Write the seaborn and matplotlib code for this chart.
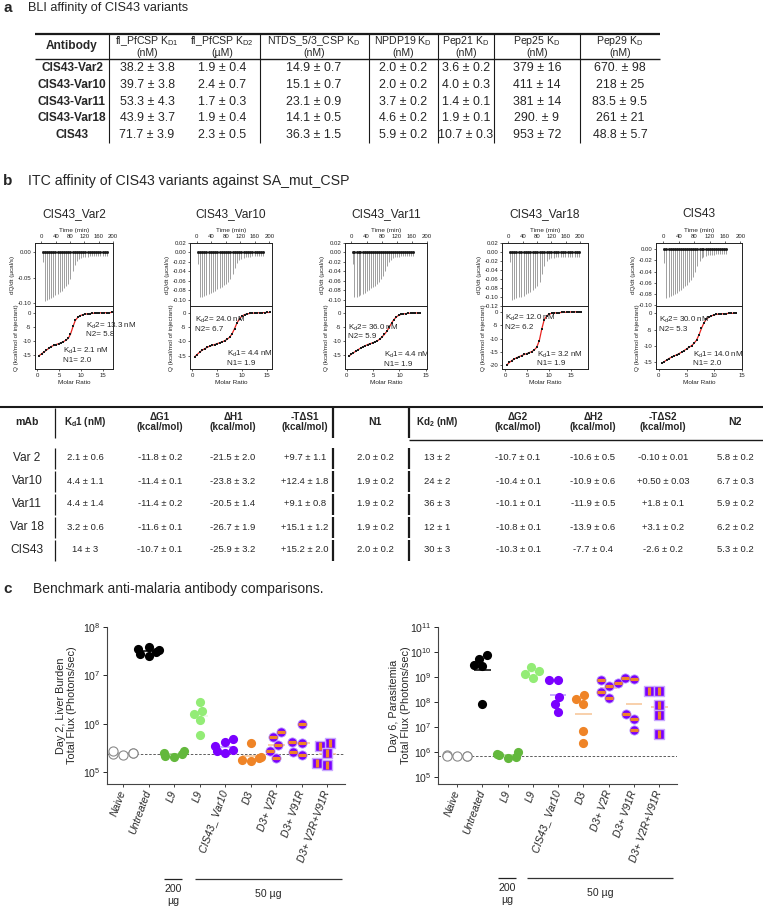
import numpy as np
import pandas as pd
import matplotlib
matplotlib.use("Agg")
import matplotlib.pyplot as plt
import matplotlib.ticker as mticker
from matplotlib import font_manager
import seaborn as sns

# ======================= DATA =======================
# ---- panel a : BLI table ----
bli_antibodies = ["CIS43-Var2", "CIS43-Var10", "CIS43-Var11", "CIS43-Var18", "CIS43"]
bli_headers = ["Antibody",
               "fl_PfCSP K$_\\mathregular{D1}$\n(nM)",
               "fl_PfCSP K$_\\mathregular{D2}$\n(µM)",
               "NTDS_5/3_CSP K$_\\mathregular{D}$\n(nM)",
               "NPDP19 K$_\\mathregular{D}$\n(nM)",
               "Pep21 K$_\\mathregular{D}$\n(nM)",
               "Pep25 K$_\\mathregular{D}$\n(nM)",
               "Pep29 K$_\\mathregular{D}$\n(nM)"]
bli_fl_kd1 = ["38.2 ± 3.8", "39.7 ± 3.8", "53.3 ± 4.3", "43.9 ± 3.7", "71.7 ± 3.9"]
bli_fl_kd2 = ["1.9 ± 0.4", "2.4 ± 0.7", "1.7 ± 0.3", "1.9 ± 0.4", "2.3 ± 0.5"]
bli_ntds = ["14.9 ± 0.7", "15.1 ± 0.7", "23.1 ± 0.9", "14.1 ± 0.5", "36.3 ± 1.5"]
bli_npdp19 = ["2.0 ± 0.2", "2.0 ± 0.2", "3.7 ± 0.2", "4.6 ± 0.2", "5.9 ± 0.2"]
bli_pep21 = ["3.6 ± 0.2", "4.0 ± 0.3", "1.4 ± 0.1", "1.9 ± 0.1", "10.7 ± 0.3"]
bli_pep25 = ["379 ± 16", "411 ± 14", "381 ± 14", "290. ± 9", "953 ± 72"]
bli_pep29 = ["670. ± 98", "218 ± 25", "83.5 ± 9.5", "261 ± 21", "48.8 ± 5.7"]

# ---- panel b : ITC ----
itc_names = ["CIS43_Var2", "CIS43_Var10", "CIS43_Var11", "CIS43_Var18", "CIS43"]
itc_times_a = [3, 9, 15, 21, 27, 33, 39, 45, 51, 57, 63, 69, 75, 81, 87, 93, 99, 105,
               111, 117, 123, 129, 135, 141, 147, 153, 159, 165, 171, 177, 183]
itc_times_b = [3, 8, 14, 19, 24, 30, 35, 40, 46, 51, 56, 62, 67, 72, 78, 83, 88, 94,
               99, 104, 110, 115, 120, 126, 131, 136, 142, 147, 152, 158, 163]
itc_times_c = [3, 9, 16, 22, 29, 35, 42, 48, 55, 61, 68, 74, 81, 87, 94, 100, 107, 113,
               120, 126, 133, 139, 146, 152, 159, 165, 172, 178, 185, 191, 198]
peak_var2 = [-0.020, -0.095, -0.093, -0.091, -0.089, -0.087, -0.084, -0.081, -0.078, -0.075,
             -0.071, -0.067, -0.062, -0.052, -0.038, -0.026, -0.018, -0.014, -0.012, -0.011,
             -0.010, -0.010, -0.009, -0.009, -0.009, -0.008, -0.008, -0.008, -0.008, -0.008, -0.008]
peak_var10 = [-0.025, -0.095, -0.093, -0.091, -0.089, -0.087, -0.085, -0.083, -0.081, -0.078,
              -0.075, -0.072, -0.069, -0.066, -0.062, -0.055, -0.045, -0.032, -0.022, -0.016,
              -0.013, -0.011, -0.010, -0.009, -0.009, -0.008, -0.008, -0.008, -0.007, -0.007, -0.007]
peak_var11 = [-0.025, -0.095, -0.093, -0.091, -0.089, -0.087, -0.085, -0.082, -0.079, -0.076,
              -0.073, -0.070, -0.066, -0.062, -0.057, -0.050, -0.040, -0.029, -0.020, -0.015,
              -0.012, -0.010, -0.009, -0.009, -0.008, -0.008, -0.008, -0.007, -0.007, -0.007, -0.007]
peak_var18 = [-0.022, -0.107, -0.105, -0.103, -0.101, -0.099, -0.097, -0.094, -0.091, -0.088,
              -0.085, -0.081, -0.076, -0.066, -0.048, -0.030, -0.020, -0.016, -0.014, -0.013,
              -0.012, -0.012, -0.011, -0.011, -0.011, -0.010, -0.010, -0.010, -0.010, -0.010, -0.010]
peak_cis43 = [-0.025, -0.087, -0.085, -0.083, -0.081, -0.079, -0.077, -0.075, -0.072, -0.069,
              -0.066, -0.063, -0.059, -0.055, -0.049, -0.040, -0.030, -0.021, -0.016, -0.013,
              -0.012, -0.011, -0.010, -0.010, -0.010, -0.009, -0.009, -0.009, -0.009, -0.009, -0.009]
ratio_var2 = [0.5, 1.0, 1.6, 2.1, 2.7, 3.2, 3.8, 4.3, 4.9, 5.4, 6.0, 6.5, 7.1, 7.6, 8.2, 8.7,
              9.3, 9.8, 10.4, 10.9, 11.5, 12.0, 12.6, 13.1, 13.7, 14.2, 14.8, 15.3, 15.9, 16.4, 17.0]
q_var2 = [-15.2, -14.6, -13.9, -13.3, -12.6, -12.0, -11.6, -11.3, -11.0, -10.7, -10.3, -9.8,
          -9.1, -7.6, -4.8, -2.7, -1.6, -1.0, -0.7, -0.5, -0.4, -0.3, -0.2, -0.15, -0.1, -0.05,
          0.0, 0.0, 0.05, 0.05, 0.1]
ratio_var10 = [0.5, 1.0, 1.5, 2.0, 2.5, 3.0, 3.5, 4.0, 4.5, 5.0, 5.5, 6.0, 6.5, 7.0, 7.5, 8.0,
               8.5, 9.0, 9.5, 10.0, 10.5, 11.0, 11.5, 12.0, 12.5, 13.0, 13.5, 14.0, 14.5, 15.0, 15.5]
q_var10 = [-15.4, -14.6, -13.8, -13.1, -12.6, -12.1, -11.7, -11.4, -11.1, -10.8, -10.5, -10.2,
           -9.8, -9.3, -8.6, -7.4, -5.6, -3.6, -2.1, -1.2, -0.7, -0.45, -0.3, -0.2, -0.15, -0.1,
           -0.05, 0.0, 0.0, 0.05, 0.05]
ratio_var11 = [0.4, 0.85, 1.3, 1.75, 2.2, 2.65, 3.1, 3.55, 4.0, 4.45, 4.9, 5.35, 5.8, 6.25, 6.7,
               7.15, 7.6, 8.05, 8.5, 8.95, 9.4, 9.85, 10.3, 10.75, 11.2, 11.65, 12.1, 12.55, 13.0,
               13.45, 13.9]
q_var11 = [-15.5, -14.8, -14.2, -13.7, -13.1, -12.6, -12.1, -11.7, -11.3, -11.0, -10.7, -10.4,
           -10.0, -9.4, -8.6, -7.7, -6.6, -5.2, -3.7, -2.4, -1.5, -0.9, -0.6, -0.4, -0.3, -0.2,
           -0.15, -0.1, -0.1, -0.05, -0.05]
ratio_var18 = [0.4, 1.0, 1.55, 2.1, 2.7, 3.25, 3.8, 4.4, 4.95, 5.5, 6.1, 6.65, 7.2, 7.8, 8.35,
               8.9, 9.5, 10.05, 10.6, 11.2, 11.75, 12.3, 12.9, 13.45, 14.0, 14.6, 15.15, 15.7,
               16.3, 16.85, 17.4]
q_var18 = [-20.0, -19.0, -18.3, -17.7, -17.2, -16.8, -16.4, -16.0, -15.7, -15.3, -14.9, -14.3,
           -13.3, -10.8, -6.5, -3.0, -1.4, -0.8, -0.5, -0.35, -0.25, -0.2, -0.15, -0.1, -0.05,
           0.0, 0.05, 0.05, 0.1, 0.1, 0.1]
ratio_cis43 = [0.5, 0.95, 1.4, 1.85, 2.3, 2.75, 3.2, 3.65, 4.1, 4.55, 5.0, 5.45, 5.9, 6.35, 6.8,
               7.25, 7.7, 8.15, 8.6, 9.05, 9.5, 9.95, 10.4, 10.85, 11.3, 11.75, 12.2, 12.65, 13.1,
               13.55, 14.0]
q_cis43 = [-15.3, -14.8, -14.3, -13.8, -13.4, -13.0, -12.7, -12.3, -11.9, -11.4, -10.9, -10.4,
           -9.9, -9.2, -8.2, -6.6, -4.6, -2.9, -1.8, -1.2, -0.8, -0.5, -0.35, -0.25, -0.2, -0.15,
           -0.1, -0.05, -0.05, 0.0, 0.0]
itc_kd2 = ["13.3", "24.0", "36.0", "12.0", "30.0"]
itc_n2 = ["5.8", "6.7", "5.9", "6.2", "5.3"]
itc_kd1 = ["2.1", "4.4", "4.4", "3.2", "14.0"]
itc_n1 = ["2.0", "1.9", "1.9", "1.9", "2.0"]

# ---- panel b : thermodynamics table ----
itc_headers = ["mAb", "K$_\\mathregular{d}$1 (nM)", "ΔG1\n(kcal/mol)", "ΔH1\n(kcal/mol)",
               "-TΔS1\n(kcal/mol)", "N1", "Kd$_\\mathregular{2}$ (nM)", "ΔG2\n(kcal/mol)",
               "ΔH2\n(kcal/mol)", "-TΔS2\n(kcal/mol)", "N2"]
itc_mabs = ["Var 2", "Var10", "Var11", "Var 18", "CIS43"]
itc_tab_kd1 = ["2.1 ± 0.6", "4.4 ± 1.1", "4.4 ± 1.4", "3.2 ± 0.6", "14 ± 3"]
itc_tab_dg1 = ["-11.8 ± 0.2", "-11.4 ± 0.1", "-11.4 ± 0.2", "-11.6 ± 0.1", "-10.7 ± 0.1"]
itc_tab_dh1 = ["-21.5 ± 2.0", "-23.8 ± 3.2", "-20.5 ± 1.4", "-26.7 ± 1.9", "-25.9 ± 3.2"]
itc_tab_tds1 = ["+9.7 ± 1.1", "+12.4 ± 1.8", "+9.1 ± 0.8", "+15.1 ± 1.2", "+15.2 ± 2.0"]
itc_tab_n1 = ["2.0 ± 0.2", "1.9 ± 0.2", "1.9 ± 0.2", "1.9 ± 0.2", "2.0 ± 0.2"]
itc_tab_kd2 = ["13 ± 2", "24 ± 2", "36 ± 3", "12 ± 1", "30 ± 3"]
itc_tab_dg2 = ["-10.7 ± 0.1", "-10.4 ± 0.1", "-10.1 ± 0.1", "-10.8 ± 0.1", "-10.3 ± 0.1"]
itc_tab_dh2 = ["-10.6 ± 0.5", "-10.9 ± 0.6", "-11.9 ± 0.5", "-13.9 ± 0.6", "-7.7 ± 0.4"]
itc_tab_tds2 = ["-0.10 ± 0.01", "+0.50 ± 0.03", "+1.8 ± 0.1", "+3.1 ± 0.2", "-2.6 ± 0.2"]
itc_tab_n2 = ["5.8 ± 0.2", "6.7 ± 0.3", "5.9 ± 0.2", "6.2 ± 0.2", "5.3 ± 0.2"]

# ---- panel c : benchmark ----
c_groups = ["Naive", "Untreated", "L9_200", "L9_50", "CIS43_Var10", "D3", "D3_V2R",
            "D3_V91R", "D3_V2R_V91R"]
c_labels = ["Naive", "Untreated", "L9", "L9", "CIS43_ Var10", "D3", "D3+ V2R", "D3+ V91R",
            "D3+ V2R+V91R"]
liver_naive = [2.3e5, 2.7e5, 2.5e5, 2.2e5, 2.5e5]
liver_untreated = [2.5e7, 3.1e7, 3.8e7, 3.5e7, 3.3e7, 2.8e7]
liver_l9_200 = [2.5e5, 2.7e5, 2.1e5, 2.0e5, 2.3e5]
liver_l9_50 = [2.8e6, 1.6e6, 1.8e6, 1.2e6, 5.7e5]
liver_cis43_var10 = [4.8e5, 4.1e5, 3.4e5, 2.9e5, 2.5e5, 2.7e5]
liver_d3 = [3.9e5, 1.7e5, 1.9e5, 1.8e5, 2.0e5]
liver_d3_v2r = [5.3e5, 6.8e5, 3.6e5, 2.7e5, 1.9e5]
liver_d3_v91r = [9.8e5, 4.1e5, 4.0e5, 2.2e5, 2.6e5]
liver_d3_v2r_v91r = [4.0e5, 3.5e5, 2.5e5, 1.5e5, 1.4e5]
liver_cutoff = 2.3e5
para_naive = [6.9e5, 7.3e5, 7.0e5, 7.2e5, 7.1e5]
para_untreated = [5.4e9, 7.4e9, 2.7e9, 2.9e9, 8.7e7]
para_l9_200 = [9.6e5, 7.6e5, 6.5e5, 5.9e5, 8.0e5]
para_l9_50 = [2.5e9, 1.7e9, 9.5e8, 1.3e9]
para_cis43_var10 = [7.4e8, 7.3e8, 1.6e8, 8.0e7, 3.9e7]
para_d3 = [1.85e8, 8.6e7, 1.35e8, 6.7e6, 2.3e6]
para_d3_v2r = [7.4e8, 5.5e8, 4.3e8, 2.5e8, 1.45e8]
para_d3_v91r = [9.5e8, 8.1e8, 3.2e7, 2.0e7, 7.9e6]
para_d3_v2r_v91r = [2.8e8, 2.8e8, 7.4e7, 3.0e7, 5.3e6]
para_cutoff = 7.2e5

# ======================= STYLE =======================
sns.set_theme(style="ticks")
plt.rcParams['font.family'] = ['Liberation Sans', 'DejaVu Sans']
plt.rcParams['mathtext.fontset'] = 'custom'
plt.rcParams['mathtext.rm'] = 'Liberation Sans'
plt.rcParams['mathtext.it'] = 'Liberation Sans:italic'
plt.rcParams['mathtext.bf'] = 'Liberation Sans:bold'
plt.rcParams['axes.unicode_minus'] = False


def has_font(name):
    try:
        font_manager.findfont(font_manager.FontProperties(family=name),
                              fallback_to_default=False)
        return True
    except Exception:
        return False


if has_font('Liberation Sans Narrow'):
    NARROW = dict(family=['Liberation Sans Narrow', 'DejaVu Sans'])
    A_HDR, A_DAT, A_ROW = 9.0, 10.6, 10.2
else:
    NARROW = dict(family=['Liberation Sans', 'DejaVu Sans'])
    A_HDR, A_DAT, A_ROW = 7.6, 8.9, 8.6

W, H = 763, 909
fig = plt.figure(figsize=(W / 100, H / 100), dpi=100)
bg = fig.add_axes([0, 0, 1, 1])
bg.set_xlim(0, W)
bg.set_ylim(H, 0)
bg.axis('off')


def px_axes(x0, y0, x1, y1):
    return fig.add_axes([x0 / W, 1 - y1 / H, (x1 - x0) / W, (y1 - y0) / H])


def hline(y, x0, x1, lw=1.0, color='k'):
    bg.plot([x0, x1], [y, y], color=color, lw=lw, solid_capstyle='butt')


def vline(x, y0, y1, lw=0.8, color='k'):
    bg.plot([x, x], [y0, y1], color=color, lw=lw, solid_capstyle='butt')


# ======================= PANEL A =======================
bg.text(3, 8, "a", fontsize=11, fontweight='bold', va='center', ha='left')
bg.text(28, 8, "BLI affinity of CIS43 variants", fontsize=9.2, va='center', ha='left')
a_cols_x = [72, 147, 222, 314, 403, 466, 537, 620]
a_rows_y = [68, 85, 102, 118, 135]
hline(34, 35, 660, lw=1.6)
hline(59, 35, 660, lw=1.0)
for x in [109, 260, 369, 438, 494, 580]:
    vline(x, 34, 143, lw=0.8)
for j, h in enumerate(bli_headers):
    if j == 0:
        bg.text(a_cols_x[j], 46.5, h, ha='center', va='center', fontsize=A_ROW,
                fontweight='bold', **NARROW)
    else:
        bg.text(a_cols_x[j], 46.5, h, ha='center', va='center', fontsize=A_HDR,
                linespacing=1.0, **NARROW)
bli_cols = [bli_fl_kd1, bli_fl_kd2, bli_ntds, bli_npdp19, bli_pep21, bli_pep25, bli_pep29]
for i, ab in enumerate(bli_antibodies):
    bg.text(a_cols_x[0], a_rows_y[i], ab, ha='center', va='center', fontsize=A_ROW,
            fontweight='bold', **NARROW)
    for j, col in enumerate(bli_cols):
        bg.text(a_cols_x[j + 1], a_rows_y[i], col[i], ha='center', va='center',
                fontsize=A_DAT, **NARROW)

# ======================= PANEL B (ITC) =======================
bg.text(3, 181, "b", fontsize=11, fontweight='bold', va='center', ha='left')
bg.text(28, 181, "ITC affinity of CIS43 variants against SA_mut_CSP", fontsize=10.2,
        va='center', ha='left')

itc_times = [itc_times_a, itc_times_a, itc_times_b, itc_times_c, itc_times_b]
itc_peaks = [peak_var2, peak_var10, peak_var11, peak_var18, peak_cis43]
itc_ratio = [ratio_var2, ratio_var10, ratio_var11, ratio_var18, ratio_cis43]
itc_q = [q_var2, q_var10, q_var11, q_var18, q_cis43]

itc_box_x = [(35, 113), (190, 272), (345, 427), (502, 588), (656, 742)]
itc_time_lim = [(-18, 200), (-18, 207), (-17, 200), (-18, 222), (-19, 204)]
itc_dq_lim = [(-0.105, 0.017), (-0.113, 0.02), (-0.113, 0.02), (-0.12, 0.02), (-0.101, 0.011)]
itc_dq_ticks = [[0, -0.05, -0.10],
                [0.02, 0, -0.02, -0.04, -0.06, -0.08, -0.10],
                [0.02, 0, -0.02, -0.04, -0.06, -0.08, -0.10],
                [0.02, 0, -0.02, -0.04, -0.06, -0.08, -0.10, -0.12],
                [0, -0.02, -0.04, -0.06, -0.08, -0.10]]
itc_ratio_lim = [(-0.5, 17.3), (-0.4, 16), (-0.3, 15.2), (-0.7, 18.9), (-0.5, 15.0)]
itc_q_lim = [(-20, 2.4), (-19.6, 2.3), (-20, 2.4), (-21.5, 2.3), (-17, 2.2)]
itc_q_ticks = [[0, -5, -10, -15], [0, -5, -10, -15], [0, -5, -10, -15],
               [0, -5, -10, -15, -20], [0, -5, -10, -15]]
itc_kd2_pos = [(0.66, 0.77), (0.06, 0.86), (0.04, 0.74), (0.03, 0.89), (0.03, 0.86)]
itc_kd1_pos = [(0.36, 0.37), (0.45, 0.32), (0.47, 0.30), (0.41, 0.31), (0.43, 0.31)]
ITC_TOP, ITC_MID, ITC_BOT = 243, 306, 369
TICK_FS, LAB_FS = 4.3, 4.6

for k in range(5):
    x0, x1 = itc_box_x[k]
    axu = px_axes(x0, ITC_TOP, x1, ITC_MID)
    axl = px_axes(x0, ITC_MID, x1, ITC_BOT)
    t = itc_times[k]
    p = itc_peaks[k]
    n = min(len(t), len(p))
    axu.vlines(t[:n], p[:n], 0, color='#6a6a6a', lw=0.45)
    axu.hlines(0, t[0], t[n - 1] + 3, color='k', lw=0.6)
    axu.plot(t[:n], np.zeros(n), 's', ms=1.0, color='k')
    axu.set_xlim(*itc_time_lim[k])
    axu.set_ylim(*itc_dq_lim[k])
    axu.xaxis.tick_top()
    axu.xaxis.set_label_position('top')
    axu.set_xticks([0, 40, 80, 120, 160, 200])
    axu.set_yticks(itc_dq_ticks[k])
    axu.yaxis.set_major_formatter(mticker.FormatStrFormatter('%.2f'))
    axu.set_xlabel("Time (min)", fontsize=LAB_FS, labelpad=1.5)
    axu.set_ylabel("dQ/dt (µcal/s)", fontsize=LAB_FS, labelpad=1.5)

    r = itc_ratio[k]
    q = itc_q[k]
    m = min(len(r), len(q))
    sns.lineplot(x=r[:m], y=q[:m], ax=axl, color='#e8231f', lw=0.9, zorder=2)
    sns.scatterplot(x=r[:m], y=q[:m], ax=axl, marker='s', s=3.5, color='k',
                    edgecolor='k', linewidth=0, zorder=3)
    axl.set_xlim(*itc_ratio_lim[k])
    axl.set_ylim(*itc_q_lim[k])
    axl.set_xticks([0, 5, 10, 15])
    axl.set_yticks(itc_q_ticks[k])
    axl.yaxis.set_major_formatter(mticker.FormatStrFormatter('%d'))
    axl.set_xlabel("Molar Ratio", fontsize=LAB_FS, labelpad=1.5)
    axl.set_ylabel("Q (kcal/mol of injectant)", fontsize=LAB_FS, labelpad=2.5)
    axl.text(*itc_kd2_pos[k], "K$_\\mathregular{d}$2= %s nM\nN2= %s" % (itc_kd2[k], itc_n2[k]),
             transform=axl.transAxes, fontsize=5.8, va='top', ha='left', linespacing=1.15)
    axl.text(*itc_kd1_pos[k], "K$_\\mathregular{d}$1= %s nM\nN1= %s" % (itc_kd1[k], itc_n1[k]),
             transform=axl.transAxes, fontsize=5.8, va='top', ha='left', linespacing=1.15)
    for a in (axu, axl):
        for s in a.spines.values():
            s.set_linewidth(0.7)
            s.set_color('#222222')
            s.set_visible(True)
        a.tick_params(labelsize=TICK_FS, length=1.5, width=0.5, pad=1.2, colors='#222222')
    bg.text((x0 + x1) / 2, 214, itc_names[k], fontsize=8.6, ha='center', va='center')

# ---- thermodynamics table ----
b_cols_x = [27, 85, 160, 233, 305, 375, 437, 518, 593, 663, 735]
b_rows_y = [458, 481, 504, 527, 550]
b_hdr_y = 422
hline(407, 0, 763, lw=1.5)
hline(440, 409, 763, lw=1.0)
for xv, lw in [(55, 0.9), (333, 1.6), (409, 1.6)]:
    vline(xv, 408, 438, lw=lw)
    for yy in b_rows_y:
        vline(xv, yy - 10.5, yy + 10.5, lw=lw)
for j, h in enumerate(itc_headers):
    fs = 7.6 if j in (0, 5, 10) else 7.1
    bg.text(b_cols_x[j], b_hdr_y, h, ha='center', va='center', fontsize=fs,
            fontweight='bold', linespacing=1.1)
b_cols = [itc_tab_kd1, itc_tab_dg1, itc_tab_dh1, itc_tab_tds1, itc_tab_n1, itc_tab_kd2,
          itc_tab_dg2, itc_tab_dh2, itc_tab_tds2, itc_tab_n2]
for i, mab in enumerate(itc_mabs):
    bg.text(b_cols_x[0], b_rows_y[i], mab, ha='center', va='center', fontsize=8.6)
    for j, col in enumerate(b_cols):
        bg.text(b_cols_x[j + 1], b_rows_y[i], col[i], ha='center', va='center', fontsize=6.8)

# ======================= PANEL C =======================
bg.text(3, 589, "c", fontsize=11, fontweight='bold', va='center', ha='left')
bg.text(33, 589, "Benchmark anti-malaria antibody comparisons.", fontsize=10,
        va='center', ha='left')

PURPLE = '#7a00ff'
ORANGE = '#ef8427'
c_styles = {
    "Naive": dict(marker='o', face='white', edge='#8a8a8a', lw=0.8, mean='#cccccc'),
    "Untreated": dict(marker='o', face='#000000', edge='#000000', lw=0, mean='#000000'),
    "L9_200": dict(marker='o', face='#63b83c', edge='#63b83c', lw=0, mean='#a8d890'),
    "L9_50": dict(marker='o', face='#93ec76', edge='#93ec76', lw=0, mean='#e8fbe0'),
    "CIS43_Var10": dict(marker='o', face=PURPLE, edge=PURPLE, lw=0, mean='#b894ff'),
    "D3": dict(marker='o', face=ORANGE, edge=ORANGE, lw=0, mean='#f6c494'),
    "D3_V2R": dict(marker='o', face=PURPLE, edge='#b894ff', lw=0.6, mean='#f6c494'),
    "D3_V91R": dict(marker='o', face=PURPLE, edge='#b894ff', lw=0.6, mean='#f6c494'),
    "D3_V2R_V91R": dict(marker='s', face=PURPLE, edge='#c9a8ff', lw=1.0, mean='#f6c494'),
}
overlay = {"D3_V2R": '_', "D3_V91R": '_', "D3_V2R_V91R": '|'}
SWARM_SIZE = 6.0   # size used for the beeswarm layout
DRAW_SIZE = 6.6    # drawn marker size

liver_values = [liver_naive, liver_untreated, liver_l9_200, liver_l9_50, liver_cis43_var10,
                liver_d3, liver_d3_v2r, liver_d3_v91r, liver_d3_v2r_v91r]
para_values = [para_naive, para_untreated, para_l9_200, para_l9_50, para_cis43_var10,
               para_d3, para_d3_v2r, para_d3_v91r, para_d3_v2r_v91r]


def draw_flux(ax, values, cutoff, ylim, ylabel, ylab_x, xlim):
    colls = {}
    for i, (key, vals) in enumerate(zip(c_groups, values)):
        st = c_styles[key]
        df = pd.DataFrame({"group": [key] * len(vals), "flux": vals})
        nb = len(ax.collections)
        sns.swarmplot(data=df, x="group", y="flux", order=c_groups, ax=ax, size=SWARM_SIZE,
                      marker=st['marker'], color=st['face'], edgecolor=st['edge'],
                      linewidth=st['lw'], log_scale=True, warn_thresh=1.0, zorder=3)
        new = [c for c in ax.collections[nb:] if len(c.get_offsets()) > 0]
        if new:
            colls[key] = new[-1]
        gm = np.exp(np.mean(np.log(vals)))
        ax.hlines(gm, i - 0.33, i + 0.33, colors=st['mean'], lw=1.1, zorder=2)
    ax.axhline(cutoff, ls=(0, (3, 2)), color='#444444', lw=0.6, zorder=1)
    ax.set_yscale('log')
    ax.set_ylim(*ylim)
    ax.set_xlim(*xlim)
    ax.yaxis.set_major_locator(mticker.LogLocator(base=10, numticks=12))
    ax.yaxis.set_minor_locator(mticker.NullLocator())
    ax.set_xticks(range(len(c_groups)))
    ax.set_xticklabels(c_labels, rotation=70, ha='right', va='center',
                       rotation_mode='anchor', fontsize=7.6, style='italic')
    ax.tick_params(axis='x', length=2, width=0.6, pad=3)
    ax.tick_params(axis='y', labelsize=7.6, length=3, width=0.7, pad=1.5)
    ax.set_xlabel("")
    ax.set_ylabel(ylabel, fontsize=7.8, linespacing=1.15)
    ax.yaxis.set_label_coords(ylab_x, 0.5)
    sns.despine(ax=ax)
    for s in ("left", "bottom"):
        ax.spines[s].set_linewidth(0.8)
        ax.spines[s].set_color('#444444')
    return colls


axL = px_axes(107, 627, 345, 784)
axR = px_axes(438, 627, 677, 784)
collsL = draw_flux(axL, liver_values, liver_cutoff, (10 ** 4.75, 1e8),
                   "Day 2, Liver Burden\nTotal Flux (Photons/sec)", -0.125, (-0.63, 8.7))
collsR = draw_flux(axR, para_values, para_cutoff, (10 ** 4.72, 1e11),
                   "Day 6, Parasitemia\nTotal Flux (Photons/sec)", -0.115, (-0.75, 8.7))

# run the seaborn beeswarm layout, then redraw the markers at those positions
fig.canvas.draw()
for ax, colls in ((axL, collsL), (axR, collsR)):
    for key, coll in colls.items():
        st = c_styles[key]
        off = np.asarray(coll.get_offsets()).copy()
        coll.remove()
        ax.scatter(off[:, 0], off[:, 1], marker=st['marker'], s=DRAW_SIZE ** 2,
                   facecolor=st['face'], edgecolor=st['edge'], linewidths=st['lw'], zorder=3)
        if key in overlay:
            ax.scatter(off[:, 0], off[:, 1], marker=overlay[key], s=(DRAW_SIZE * 0.8) ** 2,
                       color=ORANGE, linewidths=2.3, zorder=4)

# dose annotations
for (l200, l50, ylin) in [((164, 182), (195, 342), 879), ((498, 516), (527, 673), 878)]:
    hline(ylin, l200[0], l200[1], lw=0.9, color='#222222')
    hline(ylin, l50[0], l50[1], lw=0.9, color='#333333')
    bg.text((l200[0] + l200[1]) / 2, ylin + 10, "200", ha='center', va='center', fontsize=7.6)
    bg.text((l200[0] + l200[1]) / 2, ylin + 22, "µg", ha='center', va='center', fontsize=7.6)
    bg.text((l50[0] + l50[1]) / 2, ylin + 15, "50 µg", ha='center', va='center',
            fontsize=7.6)

fig.savefig("out.png", dpi=100)
